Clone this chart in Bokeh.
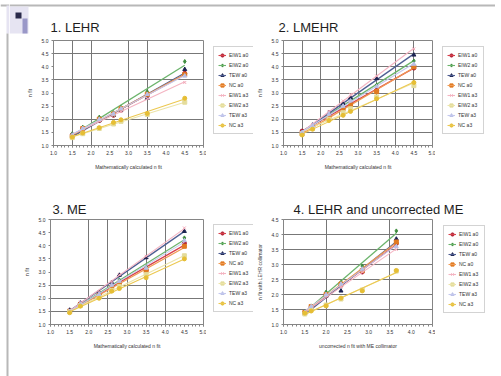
import numpy as np
from bokeh.plotting import figure
from bokeh.models import (FixedTicker, NumeralTickFormatter, Legend, LegendItem,
                          Range1d, Label, BoxAnnotation)
from bokeh.layouts import row, column
from bokeh.embed import file_html
from bokeh.resources import INLINE

# ---------------- data ----------------
series_names = ["EIW1 a0", "EIW2 a0", "TEW a0", "NC a0",
                "EIW1 a3", "EIW2 a3", "TEW a3", "NC a3"]
titles = ["1. LEHR", "2. LMEHR", "3. ME", "4. LEHR and uncorrected ME"]

# 1. LEHR
lehr_x = [1.5, 1.78, 2.22, 2.6, 2.8, 3.5, 4.5]
lehr_y = [
    [1.40, 1.65, 1.95, 2.15, 2.35, 2.90, 3.75],   # EIW1 a0
    [1.45, 1.70, 2.08, 2.25, 2.45, 3.05, 4.20],   # EIW2 a0
    [1.40, 1.60, 1.95, 2.15, 2.35, 2.80, 3.90],   # TEW a0
    [1.35, 1.65, 2.00, 2.20, 2.40, 2.95, 3.70],   # NC a0
    [1.38, 1.62, 1.95, 2.15, 2.30, 2.80, 3.40],   # EIW1 a3
    [1.30, 1.45, 1.65, 1.82, 1.92, 2.18, 2.65],   # EIW2 a3
    [1.40, 1.65, 2.00, 2.20, 2.40, 2.95, 3.65],   # TEW a3
    [1.32, 1.48, 1.68, 1.88, 1.98, 2.22, 2.80],   # NC a3
]

# 2. LMEHR
lmehr_x = [1.5, 1.78, 2.22, 2.6, 2.8, 3.5, 4.5]
lmehr_y = [
    [1.55, 1.72, 2.15, 2.45, 2.62, 3.10, 3.95],
    [1.50, 1.75, 2.20, 2.55, 2.75, 3.30, 4.22],
    [1.50, 1.78, 2.25, 2.60, 2.82, 3.55, 4.45],
    [1.45, 1.70, 2.05, 2.40, 2.55, 3.05, 4.00],
    [1.50, 1.80, 2.30, 2.70, 2.95, 3.65, 4.68],
    [1.45, 1.65, 2.00, 2.25, 2.40, 2.85, 3.28],
    [1.50, 1.75, 2.20, 2.50, 2.70, 3.25, 4.10],
    [1.40, 1.62, 1.95, 2.15, 2.30, 2.78, 3.40],
]

# 3. ME
me_x = [1.5, 1.78, 2.27, 2.6, 2.8, 3.5, 4.5]
me_y = [
    [1.52, 1.80, 2.15, 2.45, 2.60, 3.07, 4.10],
    [1.50, 1.78, 2.20, 2.50, 2.70, 3.20, 4.30],
    [1.55, 1.82, 2.22, 2.60, 2.88, 3.55, 4.55],
    [1.50, 1.75, 2.10, 2.40, 2.55, 3.05, 3.98],
    [1.55, 1.85, 2.25, 2.62, 2.90, 3.60, 4.68],
    [1.48, 1.72, 2.05, 2.30, 2.45, 2.90, 3.62],
    [1.50, 1.78, 2.15, 2.50, 2.65, 3.15, 4.20],
    [1.45, 1.70, 2.00, 2.27, 2.37, 2.78, 3.50],
]

# 4. LEHR and uncorrected ME
unc_x = [1.5, 1.65, 2.0, 2.35, 2.85, 3.65]
unc_y = [
    [1.40, 1.58, 1.95, 2.30, 2.75, 3.70],
    [1.42, 1.62, 2.08, 2.40, 2.95, 4.12],
    [1.38, 1.55, 1.95, 2.12, 2.80, 3.85],
    [1.40, 1.60, 2.00, 2.35, 2.80, 3.75],
    [1.38, 1.55, 1.95, 2.25, 2.75, 3.50],
    [1.35, 1.48, 1.65, 1.85, 2.15, 2.78],
    [1.40, 1.60, 2.00, 2.35, 2.85, 3.60],
    [1.38, 1.45, 1.62, 1.88, 2.12, 2.80],
]

axis_ticks = [1.0, 1.5, 2.0, 2.5, 3.0, 3.5, 4.0, 4.5, 5.0]

# ---------------- styles ----------------
marker_colors = ["#b01e32", "#3c8c3c", "#1c2350", "#e07a22",
                 "#f2a6b6", "#e4dc9c", "#b9bfe6", "#e6be34"]
line_colors = ["#d8404c", "#6cb46c", "#4e5e92", "#f09a52",
               "#f4b4c2", "#ece4a8", "#c4c8ee", "#ecc850"]
markers = ["circle", "diamond", "triangle", "square",
           "x", "square", "triangle", "circle"]
FONT = "Liberation Sans"
GRID = "#777777"
BORDER = "#b8b8b8"


def canvas(w, h):
    """Blank drawing surface whose data units equal pixels."""
    f = figure(width=w, height=h, x_range=Range1d(0, w), y_range=Range1d(0, h),
               output_backend="svg", toolbar_location=None,
               x_axis_location=None, y_axis_location=None,
               min_border_left=0, min_border_right=0,
               min_border_top=0, min_border_bottom=0)
    f.grid.visible = False
    f.outline_line_color = None
    return f


def panel(xs, ys, xr, yr, xt, yt, xgrid, ygrid, xlabel, ylabel,
          w, h, bl, br, bt, bb):
    p = figure(width=w, height=h, x_range=Range1d(*xr), y_range=Range1d(*yr),
               output_backend="svg", toolbar_location=None,
               min_border_left=bl, min_border_right=br,
               min_border_top=bt, min_border_bottom=bb)
    p.outline_line_color = "#858585"
    p.background_fill_color = "white"

    minor = [round(v, 2) for v in np.arange(xr[0], xr[1] + 0.001, 0.1)]
    p.xaxis.ticker = FixedTicker(ticks=xt, minor_ticks=minor)
    p.yaxis.ticker = FixedTicker(ticks=yt)
    p.xgrid.ticker = FixedTicker(ticks=xgrid)
    p.ygrid.ticker = FixedTicker(ticks=ygrid)
    p.grid.grid_line_color = GRID
    p.grid.grid_line_width = 1
    for ax in (p.xaxis, p.yaxis):
        ax.formatter = NumeralTickFormatter(format="0.0")
        ax.major_label_text_font = FONT
        ax.major_label_text_font_size = "5px"
        ax.major_label_text_color = "#333333"
        ax.axis_line_color = "#858585"
        ax.major_tick_line_color = "#858585"
        ax.minor_tick_line_color = "#858585"
        ax.major_tick_out = 2
        ax.major_tick_in = 0
        ax.minor_tick_out = 2
        ax.minor_tick_in = 0
        ax.major_label_standoff = 3
        ax.axis_label_text_font = FONT
        ax.axis_label_text_font_size = "5px"
        ax.axis_label_text_font_style = "normal"
        ax.axis_label_text_color = "#333333"
        ax.axis_label_standoff = 6
    p.xaxis.axis_label = xlabel
    p.yaxis.axis_label = ylabel

    xa = np.array(xs)
    for i in range(len(series_names)):
        ya = np.array(ys[i])
        k, b = np.polyfit(xa, ya, 1)
        lx = [xa.min(), xa.max()]
        p.line(lx, [k * v + b for v in lx], line_color=line_colors[i],
               line_width=1.3 if i < 4 else 1.1)
        p.scatter(xs, ys[i], marker=markers[i], size=4,
                  fill_color=marker_colors[i], line_color=marker_colors[i])
    return p


def legend_fig(xs, ys, w, h, mbl, mgn):
    # proxies use the panel's data, but the view range keeps them out of sight
    f = figure(width=w, height=h, x_range=Range1d(100, 101), y_range=Range1d(100, 101),
               output_backend="svg", toolbar_location=None,
               x_axis_location=None, y_axis_location=None,
               min_border_left=mbl, min_border_right=0,
               min_border_top=0, min_border_bottom=0)
    f.grid.visible = False
    f.outline_line_color = None
    items = []
    for i, name in enumerate(series_names):
        l2 = f.line(xs, ys[i], line_color=line_colors[i], line_width=1.1)
        s2 = f.scatter(xs, ys[i], marker=markers[i], size=4,
                       fill_color=marker_colors[i], line_color=marker_colors[i])
        items.append(LegendItem(label=name, renderers=[s2, l2]))
    lg = Legend(items=items, location="top_left")
    lg.label_text_font = FONT
    lg.label_text_font_size = "5px"
    lg.label_text_color = "#333333"
    lg.label_width = 21
    lg.glyph_width = 8
    lg.glyph_height = 8
    lg.label_height = 8
    lg.label_standoff = 3
    lg.spacing = 2
    lg.padding = 4
    lg.margin = mgn
    lg.border_line_color = "#a8a8a8"
    lg.background_fill_alpha = 1
    f.add_layout(lg)
    return f


def title_label(f, text, x, y):
    f.add_layout(Label(x=x, y=y, text=text, text_font=FONT, text_font_size="13px",
                       text_color="#1e1e1e", text_baseline="alphabetic"))


# ---- top strip with titles 1 & 2, slide border and logo ----
strip1 = canvas(486, 34)
strip1.add_layout(BoxAnnotation(left=0, right=486, bottom=28, top=30,
                                fill_color=BORDER, fill_alpha=1, line_alpha=0))
strip1.add_layout(BoxAnnotation(left=0, right=19, bottom=1, top=28,
                                fill_color="#e6e4f2", fill_alpha=1, line_alpha=0))
strip1.add_layout(BoxAnnotation(left=6, right=12, bottom=16, top=22,
                                fill_color="#2a2a4a", fill_alpha=1, line_alpha=0))
strip1.add_layout(BoxAnnotation(left=13, right=18, bottom=1, top=16,
                                fill_color="#9a98c8", fill_alpha=1, line_alpha=0))
title_label(strip1, titles[0], 41, 7)
title_label(strip1, titles[1], 269, 7)

p1 = panel(lehr_x, lehr_y, (1.0, 5.0), (1.0, 5.0), axis_ticks, axis_ticks,
           [1.5, 2.0, 3.0, 3.5], [2.0, 3.5, 4.5],
           "Mathematically calculated n fit", "n fit",
           197, 156, 44, 3, 6, 45)
l1 = legend_fig(lehr_x, lehr_y, 47, 156, 1, 6)
p2 = panel(lmehr_x, lmehr_y, (1.0, 5.0), (1.0, 5.0), axis_ticks, axis_ticks,
           axis_ticks, axis_ticks,
           "Mathematically calculated n fit", "n fit",
           182, 156, 27, 3, 5, 44)
l2 = legend_fig(lmehr_x, lmehr_y, 60, 156, 1, 6)

# ---- middle strip with titles 3 & 4 ----
strip2 = canvas(486, 26)
title_label(strip2, titles[2], 43, 7)
title_label(strip2, titles[3], 284, 7)

p3 = panel(me_x, me_y, (1.0, 5.0), (1.0, 5.0), axis_ticks, axis_ticks,
           [2.0, 2.5, 3.0, 3.5, 4.0], [1.5, 2.0, 2.5],
           "Mathematically calculated n fit", "n fit",
           197, 158, 41, 3, 2, 50)
l3 = legend_fig(me_x, me_y, 47, 158, 2, 5)
p4 = panel(unc_x, unc_y, (1.0, 4.5), (1.0, 4.5), axis_ticks[:8], axis_ticks[:8],
           [2.0, 3.5], [1.5, 2.0, 2.5, 3.0, 3.5, 4.0],
           "uncorrected n fit with ME collimator", "n fit with LEHR collimator",
           182, 158, 30, 3, 3, 49)
l4 = legend_fig(unc_x, unc_y, 60, 158, 2, 6)

bottom = canvas(486, 2)
bottom.add_layout(BoxAnnotation(left=0, right=486, bottom=0, top=2,
                                fill_color=BORDER, fill_alpha=1, line_alpha=0))

leftbar = canvas(9, 376)
leftbar.add_layout(BoxAnnotation(left=0, right=9, bottom=370, top=372,
                                 fill_color=BORDER, fill_alpha=1, line_alpha=0))
leftbar.add_layout(BoxAnnotation(left=6, right=9, bottom=343, top=371,
                                 fill_color="#e6e4f2", fill_alpha=1, line_alpha=0))
leftbar.add_layout(BoxAnnotation(left=6, right=8, bottom=0, top=343,
                                 fill_color=BORDER, fill_alpha=1, line_alpha=0))

main = column(strip1, row(p1, l1, p2, l2), strip2, row(p3, l3, p4, l4), bottom)
layout = row(leftbar, main)

open("out.html", "w").write(file_html(layout, INLINE))
